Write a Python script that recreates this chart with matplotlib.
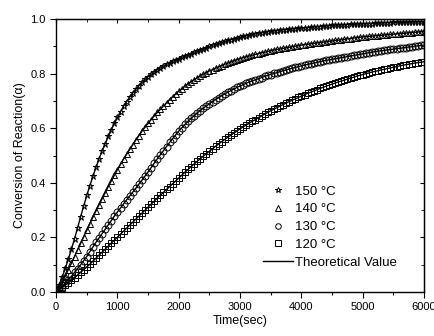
import matplotlib
matplotlib.use('Agg')
import matplotlib.pyplot as plt
from matplotlib.lines import Line2D
from matplotlib.ticker import MultipleLocator

plt.rcParams['font.family'] = ['Liberation Sans', 'DejaVu Sans']

# time axis (sec), one reading every 50 s
time_sec = list(range(0, 6001, 50))

conv_150 = [0.0, 0.026, 0.055, 0.087, 0.121, 0.157, 0.195, 0.235, 0.276, 0.316,
            0.354, 0.39, 0.424, 0.457, 0.488, 0.517, 0.544, 0.57, 0.595, 0.618,
            0.64, 0.661, 0.681, 0.698, 0.714, 0.729, 0.743, 0.756, 0.768, 0.779,
            0.789, 0.798, 0.806, 0.814, 0.821, 0.828, 0.834, 0.84, 0.845, 0.85,
            0.855, 0.86, 0.865, 0.87, 0.874, 0.879, 0.883, 0.888, 0.892, 0.896,
            0.9, 0.904, 0.908, 0.912, 0.915, 0.919, 0.922, 0.925, 0.928, 0.931,
            0.934, 0.937, 0.939, 0.942, 0.944, 0.946, 0.948, 0.95, 0.952, 0.954,
            0.955, 0.957, 0.958, 0.96, 0.961, 0.962, 0.963, 0.964, 0.965, 0.966,
            0.967, 0.968, 0.969, 0.97, 0.971, 0.972, 0.973, 0.974, 0.975, 0.976,
            0.977, 0.978, 0.978, 0.979, 0.979, 0.98, 0.981, 0.981, 0.982, 0.982,
            0.983, 0.983, 0.984, 0.984, 0.985, 0.985, 0.986, 0.986, 0.987, 0.987,
            0.988, 0.988, 0.988, 0.988, 0.989, 0.989, 0.989, 0.989, 0.99, 0.99,
            0.99]

conv_140 = [0.0, 0.018, 0.038, 0.06, 0.082, 0.106, 0.13, 0.154, 0.178, 0.202,
            0.226, 0.25, 0.274, 0.297, 0.32, 0.342, 0.364, 0.386, 0.407, 0.428,
            0.448, 0.468, 0.487, 0.505, 0.523, 0.54, 0.557, 0.573, 0.589, 0.604,
            0.618, 0.632, 0.645, 0.658, 0.67, 0.682, 0.694, 0.705, 0.716, 0.726,
            0.736, 0.745, 0.754, 0.762, 0.77, 0.778, 0.785, 0.792, 0.798, 0.804,
            0.81, 0.815, 0.82, 0.825, 0.83, 0.835, 0.839, 0.843, 0.847, 0.851,
            0.855, 0.859, 0.862, 0.865, 0.868, 0.871, 0.874, 0.877, 0.879, 0.882,
            0.884, 0.887, 0.889, 0.891, 0.893, 0.895, 0.897, 0.899, 0.901, 0.903,
            0.905, 0.907, 0.908, 0.91, 0.911, 0.913, 0.914, 0.916, 0.917, 0.919,
            0.92, 0.922, 0.923, 0.925, 0.926, 0.928, 0.929, 0.931, 0.932, 0.934,
            0.935, 0.936, 0.937, 0.938, 0.939, 0.94, 0.941, 0.942, 0.943, 0.944,
            0.945, 0.946, 0.947, 0.948, 0.949, 0.95, 0.951, 0.952, 0.953, 0.954,
            0.955]

conv_130 = [0.0, 0.01, 0.02, 0.032, 0.045, 0.058, 0.072, 0.086, 0.1, 0.115,
            0.13, 0.148, 0.165, 0.182, 0.198, 0.214, 0.23, 0.246, 0.262, 0.278,
            0.293, 0.308, 0.323, 0.338, 0.352, 0.366, 0.38, 0.395, 0.41, 0.425,
            0.44, 0.456, 0.472, 0.488, 0.503, 0.518, 0.533, 0.548, 0.562, 0.576,
            0.59, 0.602, 0.614, 0.625, 0.636, 0.646, 0.656, 0.665, 0.674, 0.682,
            0.69, 0.698, 0.705, 0.712, 0.719, 0.726, 0.732, 0.738, 0.744, 0.75,
            0.755, 0.76, 0.765, 0.77, 0.774, 0.778, 0.782, 0.786, 0.79, 0.794,
            0.797, 0.801, 0.804, 0.808, 0.811, 0.814, 0.817, 0.82, 0.823, 0.826,
            0.829, 0.832, 0.834, 0.837, 0.839, 0.842, 0.844, 0.847, 0.849, 0.851,
            0.853, 0.855, 0.857, 0.859, 0.861, 0.863, 0.865, 0.867, 0.869, 0.871,
            0.873, 0.875, 0.877, 0.879, 0.881, 0.883, 0.884, 0.886, 0.887, 0.889,
            0.89, 0.892, 0.893, 0.895, 0.896, 0.898, 0.899, 0.901, 0.902, 0.904,
            0.905]

conv_120 = [0.0, 0.008, 0.016, 0.025, 0.034, 0.043, 0.053, 0.062, 0.072, 0.082,
            0.092, 0.102, 0.113, 0.124, 0.135, 0.146, 0.157, 0.168, 0.179, 0.19,
            0.201, 0.212, 0.223, 0.234, 0.245, 0.256, 0.267, 0.278, 0.289, 0.3,
            0.311, 0.322, 0.333, 0.344, 0.355, 0.365, 0.376, 0.386, 0.397, 0.407,
            0.418, 0.428, 0.439, 0.449, 0.459, 0.469, 0.479, 0.488, 0.498, 0.507,
            0.516, 0.525, 0.534, 0.542, 0.551, 0.559, 0.567, 0.575, 0.583, 0.59,
            0.598, 0.605, 0.612, 0.619, 0.626, 0.632, 0.639, 0.645, 0.652, 0.658,
            0.664, 0.67, 0.676, 0.681, 0.687, 0.692, 0.698, 0.703, 0.708, 0.713,
            0.718, 0.723, 0.728, 0.732, 0.737, 0.741, 0.746, 0.75, 0.754, 0.758,
            0.762, 0.766, 0.77, 0.773, 0.777, 0.78, 0.784, 0.787, 0.791, 0.794,
            0.797, 0.8, 0.803, 0.806, 0.809, 0.811, 0.814, 0.816, 0.819, 0.821,
            0.824, 0.826, 0.829, 0.831, 0.833, 0.835, 0.837, 0.839, 0.841, 0.842,
            0.844]

labels = ['150 °C', '140 °C', '130 °C', '120 °C']
markers = ['*', '^', 'o', 's']
series = [conv_150, conv_140, conv_130, conv_120]

fig = plt.figure(figsize=(4.35, 3.36), dpi=100)
ax = fig.add_axes([0.129, 0.131, 0.846, 0.812])

for vals, mk in zip(series, markers):
    ax.plot(time_sec, vals, linestyle='none', marker=mk, markersize=5,
            markerfacecolor='none', markeredgecolor='black', markeredgewidth=0.7)
    ax.plot(time_sec, vals, color='black', linewidth=1.0)

ax.set_xlim(0, 6000)
ax.set_ylim(0, 1.0)
ax.xaxis.set_major_locator(MultipleLocator(1000))
ax.xaxis.set_minor_locator(MultipleLocator(500))
ax.yaxis.set_major_locator(MultipleLocator(0.2))
ax.yaxis.set_minor_locator(MultipleLocator(0.1))
ax.yaxis.set_major_formatter(plt.FormatStrFormatter('%.1f'))
ax.tick_params(which='major', direction='out', length=4, width=0.8, labelsize=8)
ax.tick_params(which='minor', direction='out', length=2, width=0.8)
for s in ax.spines.values():
    s.set_linewidth(1.0)

# mirrored inward ticks on top and right
top = ax.secondary_xaxis('top')
top.xaxis.set_major_locator(MultipleLocator(1000))
top.xaxis.set_minor_locator(MultipleLocator(500))
top.tick_params(which='both', direction='in', labeltop=False)
top.tick_params(which='major', length=3)
top.tick_params(which='minor', length=2)
right = ax.secondary_yaxis('right')
right.yaxis.set_major_locator(MultipleLocator(0.2))
right.yaxis.set_minor_locator(MultipleLocator(0.1))
right.tick_params(which='both', direction='in', labelright=False)
right.tick_params(which='major', length=3)
right.tick_params(which='minor', length=2)

ax.set_xlabel('Time(sec)', fontsize=9, labelpad=2)
ax.set_ylabel('Conversion of Reaction(α)', fontsize=9, labelpad=3)

handles = [Line2D([], [], linestyle='none', marker=mk, markersize=4,
                  markerfacecolor='none', markeredgecolor='black',
                  markeredgewidth=0.7) for mk in markers]
handles.append(Line2D([], [], color='black', linewidth=1.0))
ax.legend(handles, labels + ['Theoretical Value'], loc='upper left',
          bbox_to_anchor=(0.543, 0.415), frameon=False, fontsize=9.5,
          borderpad=0, handlelength=2.3, handletextpad=0.15, labelspacing=0.42)

fig.savefig('out.png', dpi=100)
